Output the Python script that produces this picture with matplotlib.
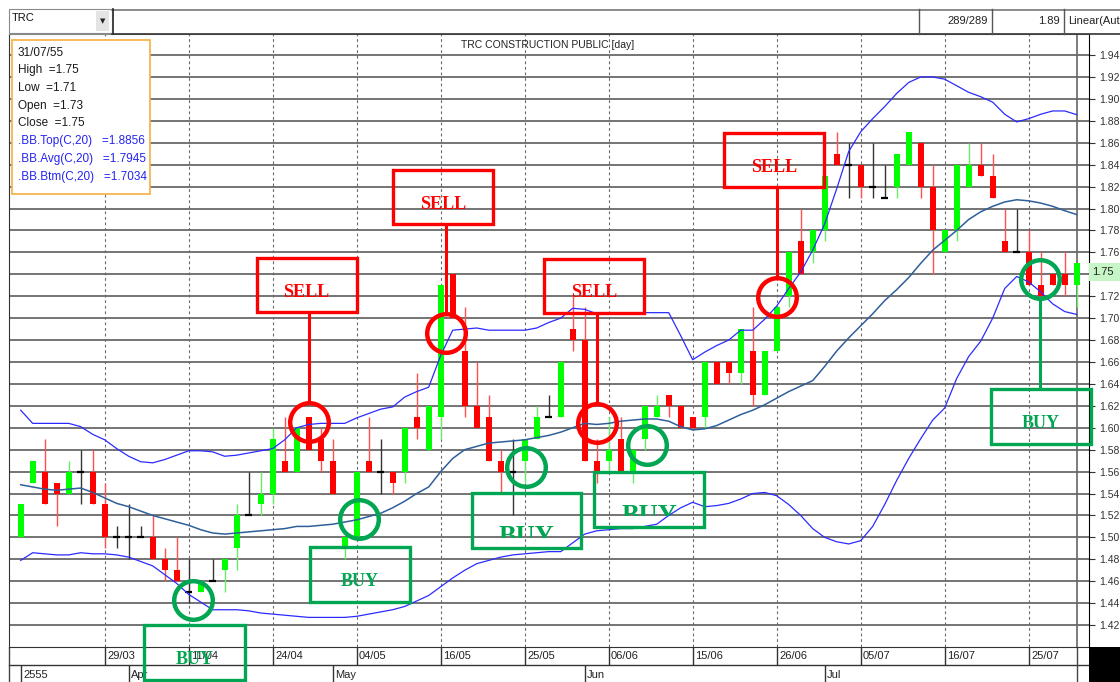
import numpy as np
import matplotlib
matplotlib.use('Agg')
import matplotlib.pyplot as plt
from matplotlib.patches import Rectangle
from matplotlib.transforms import blended_transform_factory, Bbox, TransformedBbox
from matplotlib import font_manager

# ---- daten (TRC, taeglich, 89 bars) ----
opens = [1.50, 1.55, 1.56, 1.55, 1.54, 1.56, 1.56, 1.53, 1.50, 1.50,
         1.50, 1.50, 1.48, 1.47, 1.45, 1.45, 1.46, 1.47, 1.49, 1.52,
         1.53, 1.54, 1.57, 1.56, 1.61, 1.59, 1.57, 1.49, 1.50, 1.57,
         1.56, 1.56, 1.56, 1.61, 1.58, 1.61, 1.74, 1.67, 1.62, 1.61,
         1.57, 1.56, 1.57, 1.59, 1.61, 1.61, 1.69, 1.68, 1.57, 1.57,
         1.59, 1.56, 1.59, 1.61, 1.63, 1.62, 1.61, 1.61, 1.66, 1.66,
         1.65, 1.67, 1.63, 1.67, 1.72, 1.77, 1.76, 1.78, 1.85, 1.84,
         1.84, 1.82, 1.81, 1.82, 1.84, 1.86, 1.82, 1.76, 1.78, 1.82,
         1.84, 1.83, 1.77, 1.76, 1.76, 1.73, 1.74, 1.74, 1.73]
highs = [1.53, 1.57, 1.59, 1.55, 1.57, 1.58, 1.58, 1.55, 1.51, 1.53,
         1.51, 1.52, 1.49, 1.50, 1.48, 1.46, 1.48, 1.48, 1.53, 1.56,
         1.56, 1.60, 1.61, 1.60, 1.61, 1.60, 1.59, 1.50, 1.56, 1.61,
         1.59, 1.56, 1.60, 1.65, 1.62, 1.73, 1.74, 1.71, 1.66, 1.63,
         1.58, 1.59, 1.59, 1.62, 1.63, 1.66, 1.72, 1.71, 1.59, 1.61,
         1.61, 1.58, 1.62, 1.63, 1.63, 1.62, 1.61, 1.66, 1.66, 1.66,
         1.69, 1.71, 1.67, 1.71, 1.76, 1.80, 1.78, 1.83, 1.87, 1.86,
         1.84, 1.86, 1.84, 1.85, 1.87, 1.86, 1.84, 1.78, 1.84, 1.86,
         1.86, 1.85, 1.80, 1.80, 1.78, 1.76, 1.74, 1.76, 1.75]
lows = [1.50, 1.55, 1.53, 1.51, 1.54, 1.53, 1.53, 1.49, 1.49, 1.48,
        1.50, 1.48, 1.46, 1.46, 1.44, 1.45, 1.46, 1.45, 1.47, 1.52,
        1.52, 1.53, 1.56, 1.56, 1.58, 1.56, 1.54, 1.48, 1.50, 1.56,
        1.54, 1.54, 1.55, 1.59, 1.58, 1.59, 1.70, 1.61, 1.60, 1.57,
        1.54, 1.52, 1.55, 1.59, 1.61, 1.61, 1.67, 1.57, 1.55, 1.56,
        1.56, 1.55, 1.58, 1.61, 1.61, 1.60, 1.60, 1.60, 1.64, 1.64,
        1.64, 1.62, 1.63, 1.67, 1.71, 1.74, 1.75, 1.77, 1.84, 1.81,
        1.81, 1.81, 1.81, 1.81, 1.84, 1.81, 1.74, 1.76, 1.77, 1.82,
        1.83, 1.81, 1.76, 1.76, 1.73, 1.72, 1.73, 1.72, 1.71]
closes = [1.53, 1.57, 1.53, 1.54, 1.56, 1.56, 1.53, 1.50, 1.50, 1.50,
          1.50, 1.48, 1.47, 1.46, 1.45, 1.46, 1.46, 1.48, 1.52, 1.52,
          1.54, 1.59, 1.56, 1.60, 1.58, 1.57, 1.54, 1.50, 1.56, 1.56,
          1.56, 1.55, 1.60, 1.60, 1.62, 1.73, 1.70, 1.62, 1.60, 1.57,
          1.56, 1.56, 1.59, 1.61, 1.61, 1.66, 1.68, 1.57, 1.56, 1.58,
          1.56, 1.58, 1.62, 1.62, 1.62, 1.60, 1.60, 1.66, 1.64, 1.65,
          1.69, 1.63, 1.67, 1.71, 1.76, 1.74, 1.78, 1.83, 1.84, 1.84,
          1.82, 1.82, 1.81, 1.85, 1.87, 1.82, 1.78, 1.78, 1.84, 1.84,
          1.83, 1.81, 1.76, 1.76, 1.73, 1.72, 1.73, 1.73, 1.75]

bb_top = [1.616, 1.604, 1.604, 1.604, 1.604, 1.601, 1.594, 1.589, 1.581, 1.574,
          1.569, 1.568, 1.571, 1.575, 1.579, 1.579, 1.578, 1.574, 1.575, 1.577,
          1.579, 1.581, 1.589, 1.600, 1.603, 1.604, 1.604, 1.604, 1.609, 1.613,
          1.617, 1.619, 1.628, 1.633, 1.637, 1.666, 1.689, 1.690, 1.691, 1.689,
          1.689, 1.689, 1.689, 1.691, 1.696, 1.700, 1.709, 1.708, 1.704, 1.704,
          1.705, 1.705, 1.705, 1.705, 1.705, 1.684, 1.662, 1.669, 1.675, 1.680,
          1.689, 1.689, 1.699, 1.711, 1.727, 1.742, 1.762, 1.786, 1.818, 1.852,
          1.870, 1.882, 1.893, 1.905, 1.915, 1.920, 1.920, 1.918, 1.912, 1.906,
          1.902, 1.897, 1.886, 1.879, 1.882, 1.886, 1.889, 1.889, 1.8856]
bb_avg = [1.548, 1.546, 1.544, 1.543, 1.544, 1.545, 1.541, 1.536, 1.531, 1.528,
          1.524, 1.520, 1.517, 1.514, 1.511, 1.507, 1.504, 1.503, 1.504, 1.505,
          1.506, 1.507, 1.508, 1.510, 1.510, 1.511, 1.512, 1.514, 1.516, 1.519,
          1.522, 1.527, 1.533, 1.540, 1.546, 1.560, 1.572, 1.580, 1.583, 1.586,
          1.587, 1.588, 1.589, 1.591, 1.593, 1.596, 1.600, 1.604, 1.603, 1.604,
          1.606, 1.607, 1.608, 1.608, 1.606, 1.601, 1.598, 1.599, 1.602, 1.607,
          1.612, 1.616, 1.621, 1.627, 1.633, 1.638, 1.643, 1.656, 1.670, 1.682,
          1.693, 1.704, 1.716, 1.726, 1.737, 1.750, 1.762, 1.771, 1.780, 1.790,
          1.797, 1.802, 1.806, 1.808, 1.807, 1.805, 1.802, 1.798, 1.7945]
bb_btm = [1.479, 1.486, 1.485, 1.484, 1.484, 1.486, 1.485, 1.485, 1.484, 1.482,
          1.478, 1.474, 1.466, 1.458, 1.448, 1.441, 1.434, 1.434, 1.434, 1.433,
          1.431, 1.430, 1.429, 1.428, 1.427, 1.427, 1.427, 1.427, 1.428, 1.430,
          1.432, 1.434, 1.437, 1.442, 1.447, 1.455, 1.463, 1.470, 1.476, 1.479,
          1.482, 1.484, 1.485, 1.486, 1.487, 1.487, 1.495, 1.503, 1.506, 1.507,
          1.508, 1.508, 1.510, 1.512, 1.520, 1.527, 1.532, 1.528, 1.529, 1.531,
          1.535, 1.540, 1.541, 1.538, 1.530, 1.520, 1.508, 1.500, 1.496, 1.494,
          1.497, 1.510, 1.530, 1.552, 1.572, 1.590, 1.607, 1.618, 1.645, 1.665,
          1.679, 1.700, 1.727, 1.738, 1.733, 1.724, 1.713, 1.706, 1.7034]

date_labels = ['29/03', '11/04', '24/04', '04/05', '16/05', '25/05',
               '06/06', '15/06', '26/06', '05/07', '16/07', '25/07']
date_bars = [7, 14, 21, 28, 35, 42, 49, 56, 63, 70, 77, 84]
month_labels = ['2555', 'Apr', 'May', 'Jun', 'Jul']
month_bars = [0, 9, 26, 47, 67]
last_date = '31/07/55'

# Signale: (bar, kurs) des Kreises, Mitte der Box
sell_bars = [24.05, 35.42, 48.0, 63.0]
sell_prices = [1.6054, 1.686, 1.6045, 1.7195]
sell_box_bars = [23.82, 35.19, 47.78, 62.78]
sell_box_prices = [1.7301, 1.8104, 1.7297, 1.8442]
buy_bars = [14.38, 28.19, 42.08, 52.22, 84.94]
buy_prices = [1.4427, 1.5164, 1.5644, 1.5842, 1.7356]
buy_box_bars = [14.48, 28.28, 42.15, 52.36, 85.03]
buy_box_prices = [1.3953, 1.4665, 1.5153, 1.5349, 1.6106]

# ---- schriften ----
names = {f.name for f in font_manager.fontManager.ttflist}
NARROW = 'Liberation Sans Narrow' if 'Liberation Sans Narrow' in names else 'Liberation Sans'
plt.rcParams['font.family'] = [NARROW, 'DejaVu Sans']
SERIF = 'Liberation Serif'

RED = '#ff0000'
GREEN = '#00a651'
W, H = 1120, 682
BAR_PX, PRICE_PX = 12.0, 1096.2   # pixel pro bar / pro 1.00 baht


def frac(x0, y0, x1, y1):
    return [x0 / W, 1 - y1 / H, (x1 - x0) / W, (y1 - y0) / H]


fig = plt.figure(figsize=(W / 100, H / 100), dpi=100)
fig.patch.set_facecolor('white')

ax = fig.add_axes(frac(9, 34, 1089, 647), zorder=2)
ax.set_xlim(-0.975, 89.025)
ax.set_ylim(1.40, 1.40 + 613 / PRICE_PX)
ax.set_facecolor('white')

# gitter + achse rechts (label unter dem kurs-kaestchen weglassen)
ticks = np.round(np.arange(1.42, 1.95, 0.02), 2)
box_lo = closes[-1] - 18 / PRICE_PX
ax.set_yticks(ticks)
ax.set_yticklabels(['' if box_lo <= v <= closes[-1] else '%.2f' % v for v in ticks])
ax.yaxis.tick_right()
ax.tick_params(axis='y', length=4, width=0.8, color='#333333', labelsize=7.5,
               labelcolor='#333333', pad=3)
ax.set_xticks([])
ax.yaxis.grid(True, color='#5c5c5c', lw=1.2)
ax.set_axisbelow(True)
for k in date_bars:
    ax.axvline(k, color='#6a6a6a', lw=0.8, ls=(0, (2.5, 2.5)), zorder=1)
ax.axvline(88, color='#666666', lw=1.2, zorder=1)
for s in ['left', 'bottom']:
    ax.spines[s].set_color('#333333')
ax.spines['right'].set_color('black')
ax.spines['top'].set_color('#888888')

# kerzen
idx = np.arange(len(opens))
o, h, l, c = (np.array(a) for a in (opens, highs, lows, closes))
up = c > o
dn = c < o
dj = c == o
ax.vlines(idx[up], l[up], h[up], color='#66ee66', lw=1, zorder=2)
ax.vlines(idx[dn], l[dn], h[dn], color='#ff5050', lw=1, zorder=2)
ax.vlines(idx[dj], l[dj], h[dj], color='#333333', lw=1, zorder=2)
ax.bar(idx[up], c[up] - o[up], bottom=o[up], width=0.5, color='#00ff00', zorder=3)
ax.bar(idx[dn], o[dn] - c[dn], bottom=c[dn], width=0.5, color=RED, zorder=3)
ax.hlines(c[dj], idx[dj] - 0.28, idx[dj] + 0.28, color='black', lw=1.6, zorder=3)

# bollinger
ax.plot(idx, bb_top, color='#2b2bff', lw=0.9, zorder=4)
ax.plot(idx, bb_avg, color='#2f5f99', lw=1.1, zorder=4)
ax.plot(idx, bb_btm, color='#2b2bff', lw=0.9, zorder=4)

# signale
R = 19.3
ms = 2 * R * 72 / 100
for x, y, bx, by in zip(sell_bars, sell_prices, sell_box_bars, sell_box_prices):
    bw, bh = 100 / BAR_PX, 54 / PRICE_PX
    ax.plot(x, y, 'o', ms=ms, mfc='none', mec=RED, mew=3.2, zorder=6, clip_on=False)
    ax.add_patch(Rectangle((bx - bw / 2, by - bh / 2), bw, bh, fill=False, ec=RED,
                           lw=2.4, zorder=6, clip_on=False))
    ax.plot([x, x], [by - bh / 2, y + R / PRICE_PX], color=RED, lw=2.2, zorder=6,
            solid_capstyle='butt')
    ax.annotate('SELL', (bx, by), xytext=(0, -5), textcoords='offset points',
                ha='center', va='center', family=SERIF, weight='bold',
                fontsize=13, color=RED, zorder=7)

buy_widths = [101, 100, 109, 110, 100]
for i, (x, y, bx, by) in enumerate(zip(buy_bars, buy_prices, buy_box_bars, buy_box_prices)):
    bw, bh = buy_widths[i] / BAR_PX, 55 / PRICE_PX
    ax.plot(x, y, 'o', ms=ms, mfc='none', mec=GREEN, mew=3.2, zorder=6, clip_on=False)
    ax.add_patch(Rectangle((bx - bw / 2, by - bh / 2), bw, bh, fill=False, ec=GREEN,
                           lw=2.4, zorder=6, clip_on=False))
    if i == 4:
        ax.plot([x, x], [y - R / PRICE_PX, by + bh / 2], color=GREEN, lw=2.2,
                zorder=6, solid_capstyle='butt')
    if i in (2, 3):
        # im original ist hier nur die obere haelfte der schrift zu sehen
        ty = by - 16 / PRICE_PX
        t = ax.text(bx, ty, 'BUY', ha='center', va='center', family=SERIF,
                    weight='bold', fontsize=19, color=GREEN, zorder=7, clip_on=True)
        clip = Bbox.from_extents(bx - bw / 2, ty - 1 / PRICE_PX, bx + bw / 2, by + bh / 2)
        t.set_clip_box(TransformedBbox(clip, ax.transData))
    else:
        ax.annotate('BUY', (bx, by), xytext=(0, -5), textcoords='offset points',
                    ha='center', va='center', family=SERIF, weight='bold',
                    fontsize=13, color=GREEN, zorder=7, annotation_clip=False)

# aktueller kurs rechts
tr_y = blended_transform_factory(ax.transAxes, ax.transData)
ax.add_patch(Rectangle((1.0, box_lo), 31 / 1080, 18 / PRICE_PX,
                       transform=tr_y, fc='#c6f5c6', ec='none', clip_on=False, zorder=5))
ax.text(1.0 + 3 / 1080, closes[-1] - 9 / PRICE_PX, '%.2f' % closes[-1], transform=tr_y,
        ha='left', va='center', fontsize=8, color='#222222', clip_on=False, zorder=6)

# datumszeilen unter dem chart
tr_x = blended_transform_factory(ax.transData, ax.transAxes)


def fy(ypx):
    return (647 - ypx) / 613


ax.plot([-0.975, 89.025], [fy(665), fy(665)], transform=tr_x, color='#333333',
        lw=1, clip_on=False, zorder=1)
ax.vlines(date_bars, fy(647), fy(665), transform=tr_x, color='#333333', lw=1,
          clip_on=False, zorder=1)
ax.vlines(month_bars, fy(665), fy(682), transform=tr_x, color='#333333', lw=1,
          clip_on=False, zorder=1)
ax.vlines([-0.975, 88], fy(647), fy(682), transform=tr_x, color='#444444', lw=1,
          clip_on=False, zorder=1)
for k, s in zip(date_bars, date_labels):
    ax.text(k + 0.2, fy(656), s, transform=tr_x, ha='left', va='center', fontsize=8,
            color='#222222', clip_on=False)
for k, s in zip(month_bars, month_labels):
    ax.text(k + 0.2, fy(675), s, transform=tr_x, ha='left', va='center', fontsize=8,
            color='#222222', clip_on=False)

# oberflaeche: kopfzeile, infobox
ov = fig.add_axes([0, 0, 1, 1], zorder=5)
ov.set_xlim(0, W)
ov.set_ylim(H, 0)
ov.axis('off')

ov.add_patch(Rectangle((9, 9), 103, 24, fc='white', ec='#8a8a8a', lw=0.8))
ov.add_patch(Rectangle((96, 11), 13, 20, fc='#e4e4e4', ec='none'))
ov.text(102.5, 21, '\u25bc', ha='center', va='center', fontsize=5,
        family='DejaVu Sans', color='#222222')
ov.text(12, 18, 'TRC', ha='left', va='center', fontsize=8, color='#111111')
ov.add_patch(Rectangle((112, 9), 1008, 24, fc='white', ec='none'))
ov.plot([112, 1120], [9.5, 9.5], color='#777777', lw=1.2)
ov.plot([112.5, 112.5], [9, 33.5], color='#222222', lw=1.2)
ov.plot([112, 1120], [33.5, 33.5], color='#333333', lw=1.2)
for xs in [919, 992, 1064]:
    ov.plot([xs, xs], [9, 33.5], color='#555555', lw=1)
ov.text(988, 21, '289/289', ha='right', va='center', fontsize=8, color='#222222')
ov.text(1060, 21, '1.89', ha='right', va='center', fontsize=8, color='#222222')
ov.text(1068, 21, 'Linear(Aut', ha='left', va='center', fontsize=8, color='#222222')

ov.text(548, 45, 'TRC CONSTRUCTION PUBLIC [day]', ha='center', va='center',
        fontsize=7.5, color='#222222')

ov.add_patch(Rectangle((11.5, 39.5), 138.5, 154.5, fc='white', ec='#f5b041', lw=1.2))
info = [last_date,
        'High  =%.2f' % highs[-1],
        'Low  =%.2f' % lows[-1],
        'Open  =%.2f' % opens[-1],
        'Close  =%.2f' % closes[-1],
        '.BB.Top(C,20)   =%.4f' % bb_top[-1],
        '.BB.Avg(C,20)   =%.4f' % bb_avg[-1],
        '.BB.Btm(C,20)   =%.4f' % bb_btm[-1]]
info_y = [53, 70.5, 88, 105.5, 123, 141, 159, 177]
for i, (s, yy) in enumerate(zip(info, info_y)):
    ov.text(18, yy, s, ha='left', va='center', fontsize=8.5,
            color='#1a1a1a' if i < 5 else '#2424ee')

ov.add_patch(Rectangle((1089, 647), 31, 35, fc='black', ec='none'))

fig.savefig('out.png', dpi=100)
